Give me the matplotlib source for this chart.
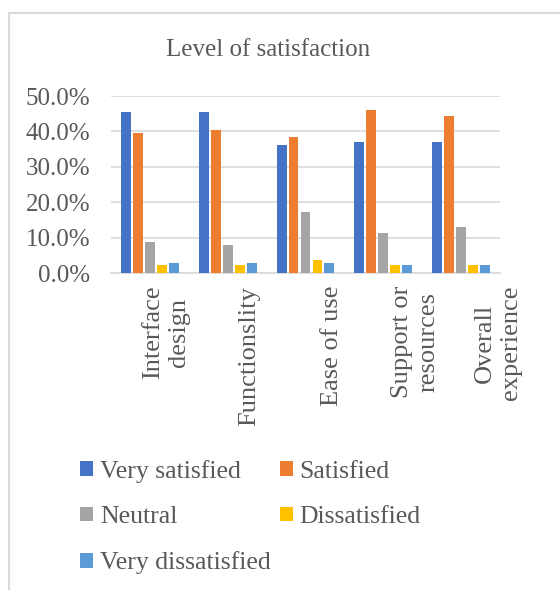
import numpy as np
import matplotlib.pyplot as plt
from matplotlib.lines import Line2D
from matplotlib.ticker import PercentFormatter
import matplotlib.transforms as mtransforms

categories = ['Interface\ndesign', 'Functionslity', 'Ease of use',
              'Support or\nresources', 'Overall\nexperience']
series = ['Very satisfied', 'Satisfied', 'Neutral', 'Dissatisfied', 'Very dissatisfied']
very_satisfied = [45.4, 45.4, 36.3, 37.0, 37.0]
satisfied = [39.6, 40.3, 38.5, 46.1, 44.5]
neutral = [8.8, 8.1, 17.2, 11.4, 13.0]
dissatisfied = [2.3, 2.3, 3.8, 2.3, 2.3]
very_dissatisfied = [3.0, 3.0, 3.0, 2.3, 2.3]
colors = ['#4472C4', '#ED7D31', '#A5A5A5', '#FFC000', '#5B9BD5']

plt.rcParams['font.family'] = ['Liberation Serif', 'DejaVu Serif']
txt = '#595959'

fig = plt.figure(figsize=(5.6, 5.9), dpi=100)
ax = fig.add_axes([111 / 560, 1 - 273.3 / 590, 389 / 560, 177.3 / 590])

x = np.arange(len(categories))
values = [very_satisfied, satisfied, neutral, dissatisfied, very_dissatisfied]
slot = 0.154
handles = []
for i, (name, vals) in enumerate(zip(series, values)):
    b = ax.bar(x + (i - 2) * slot, vals, width=0.128, color=colors[i], label=name, zorder=3)
    handles.append(b)

ax.set_xlim(-0.5, 4.5)
ax.set_ylim(0, 50)
ax.set_yticks([0, 10, 20, 30, 40, 50])
ax.yaxis.set_major_formatter(PercentFormatter(decimals=1))
ax.grid(axis='y', color='#D9D9D9', linewidth=1.2, zorder=0)
for s in ['top', 'right', 'left']:
    ax.spines[s].set_visible(False)
ax.spines['bottom'].set_color('#D9D9D9')
ax.spines['bottom'].set_linewidth(1.2)
ax.tick_params(axis='both', length=0, colors=txt, labelsize=18)
ax.tick_params(axis='y', pad=15)

ax.set_xticks(x)
ax.set_xticklabels(categories, rotation=90, va='top', ha='center',
                   multialignment='center', linespacing=1.25, fontsize=19)
ax.tick_params(axis='x', pad=9)
for i, lab in enumerate(ax.get_xticklabels()):
    dx = (16 + 5.3 * i) / 100
    lab.set_transform(lab.get_transform() + mtransforms.ScaledTranslation(dx, 0, fig.dpi_scale_trans))

fig.text(268 / 560, 1 - 50 / 590, 'Level of satisfaction', ha='center', va='center',
         fontsize=18, color=txt)

# chart border
fig.add_artist(Line2D([9 / 560, 9 / 560], [0, 1 - 13 / 590], color='#D9D9D9', linewidth=1.5))
fig.add_artist(Line2D([9 / 560, 1], [1 - 13 / 590, 1 - 13 / 590], color='#D9D9D9', linewidth=1.5))

order = [0, 2, 4, 1, 3]
leg = fig.legend([handles[k] for k in order], [series[k] for k in order],
                 ncol=2, loc='upper left', bbox_to_anchor=(80 / 560, 1 - 460 / 590),
                 frameon=False, fontsize=18.5, handlelength=0.52, handleheight=0.52,
                 handletextpad=0.25, columnspacing=0.35, labelspacing=0.9, borderpad=0,
                 borderaxespad=0)
for t in leg.get_texts():
    t.set_color(txt)

fig.savefig('out.png', dpi=100)
